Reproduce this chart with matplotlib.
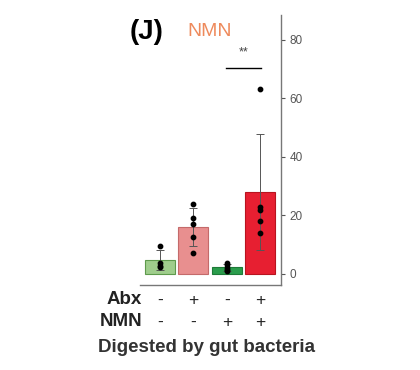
import numpy as np
import matplotlib
matplotlib.use("Agg")
import matplotlib.pyplot as plt

plt.rcParams["font.family"] = ["Liberation Sans", "DejaVu Sans"]

# Data
groups = ["Ctrl", "Abx", "NMN", "Abx+NMN"]
abx_signs = ["-", "+", "-", "+"]
nmn_signs = ["-", "-", "+", "+"]
pts_ctrl = [9.6, 3.8, 2.7, 2.4]
pts_abx = [23.9, 19.1, 17.1, 12.7, 7.2]
pts_nmn = [3.8, 3.1, 2.1, 1.4, 1.0]
pts_abx_nmn = [63.2, 22.7, 21.9, 18.2, 14.1]
y_ticks = [0, 20, 40, 60, 80]

points = [pts_ctrl, pts_abx, pts_nmn, pts_abx_nmn]
means = [np.mean(p) for p in points]
sds = [np.std(p, ddof=1) for p in points]

face_colors = ["#9fcd8c", "#e88f8f", "#2a9c4c", "#e71f31"]
edge_colors = ["#5e9a4c", "#c46a6a", "#1e7a38", "#b8141f"]

fig = plt.figure(figsize=(4.2, 3.7), dpi=100)
ax = fig.add_axes([140/420, 1-285/370, 141/420, 270/370])

x = np.arange(len(groups))
ax.bar(x, means, width=0.9, color=face_colors, edgecolor=edge_colors, linewidth=0.8, zorder=1)
ax.errorbar(x, means, yerr=sds, fmt="none", ecolor="#555555", elinewidth=0.7,
            capsize=3, capthick=0.7, zorder=2)
for xi, p in zip(x, points):
    ax.scatter([xi]*len(p), p, s=10, color="black", zorder=3)

ax.set_xlim(-0.6, 3.63)
ax.set_ylim(-3.8, 88.5)
ax.yaxis.tick_right()
ax.set_yticks(y_ticks)
ax.tick_params(axis="y", colors="#555555", labelsize=8.5, length=3, width=0.8, pad=3)
ax.set_xticks([])
for s in ["top", "left"]:
    ax.spines[s].set_visible(False)
ax.spines["right"].set_color("#777777")
ax.spines["bottom"].set_color("#777777")
ax.spines["right"].set_linewidth(1.0)
ax.spines["bottom"].set_linewidth(1.0)

# significance
ax.plot([1.99, 3.04], [70.3, 70.3], color="black", lw=1.0, clip_on=False)
ax.text(2.5, 73.5, "**", ha="center", va="bottom", fontsize=9, color="#444444")

# title texts
fig.text(146.5/420, 1-32/370, "(J)", ha="center", va="center", fontsize=20, fontweight="bold", color="black")
fig.text(210/420, 1-31/370, "NMN", ha="center", va="center", fontsize=14, color="#ee8a5c")

# bottom labels
xs_px = [160, 193, 227, 260]
fig.text(142/420, 1-300/370, "Abx", ha="right", va="center", fontsize=13.5, fontweight="bold", color="#222222")
fig.text(142/420, 1-322/370, "NMN", ha="right", va="center", fontsize=13.5, fontweight="bold", color="#222222")
for xp, a, n in zip(xs_px, abx_signs, nmn_signs):
    fig.text(xp/420, 1-300/370, a, ha="center", va="center", fontsize=12.5, color="#222222")
    fig.text(xp/420, 1-322/370, n, ha="center", va="center", fontsize=12.5, color="#222222")
fig.text(206/420, 1-348/370, "Digested by gut bacteria", ha="center", va="center",
         fontsize=13.5, fontweight="bold", color="#333333")

fig.savefig("out.png", dpi=100)
